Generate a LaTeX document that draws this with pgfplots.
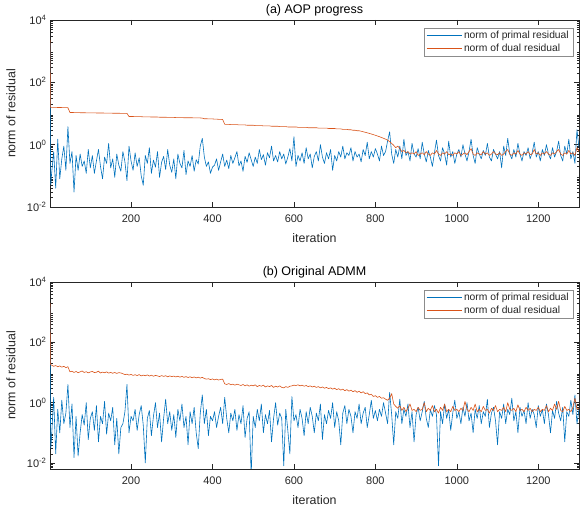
\documentclass[border=0pt]{standalone}
\usepackage{fontspec}
\setmainfont{Liberation Sans}
\usepackage{pgfplots}
\usepackage{pgfplotstable}
\pgfplotsset{compat=1.18}
\definecolor{mblue}{RGB}{0,114,189}
\definecolor{morange}{RGB}{217,83,25}
\definecolor{axgray}{RGB}{38,38,38}

\pgfplotstableread[row sep=\\]{
x p d\\
1 1800 2300\\ 2 0.9 16\\ 3 0.05 15.8\\ 5 0.12 15.8\\ 10 0.6 15.7\\ 15 0.04 15.7\\ 20 1.5 15.6\\ 25 0.08 15.6\\ 30 0.35 15.5\\ 35 0.9 15.5\\ 40 0.15 15.4\\ 45 3.8 15.3\\
50 0.25 10.8\\ 55 0.6 10.8\\ 60 0.03 10.7\\ 65 0.45 10.7\\ 70 0.15 10.7\\ 75 0.5 10.6\\ 80 0.2 10.6\\ 85 0.3 10.6\\ 90 0.12 10.5\\ 95 0.7 10.5\\ 100 0.18 10.5\\
105 0.45 10.5\\ 110 0.12 10.5\\ 115 0.3 10.4\\ 120 0.7 10.4\\ 125 0.2 10.4\\ 130 0.08 10.4\\ 135 0.4 10.3\\ 140 0.25 10.3\\ 145 1.1 10.3\\ 150 0.18 10.3\\
155 0.35 10.2\\ 160 0.09 10.2\\ 165 0.5 10.2\\ 170 0.22 10.2\\ 175 0.14 10.1\\ 180 0.6 10.1\\ 185 0.28 10.1\\ 190 0.07 10.1\\ 195 0.9 8.0\\ 200 0.3 8.0\\
205 0.15 8.0\\ 210 0.55 7.9\\ 215 0.2 7.9\\ 220 0.38 7.9\\ 225 0.1 7.9\\ 230 0.05 7.8\\ 235 0.45 7.8\\ 240 0.25 7.8\\ 245 0.8 7.8\\ 250 0.12 7.7\\
255 0.32 7.7\\ 260 0.19 7.7\\ 265 0.6 7.7\\ 270 0.09 7.6\\ 275 0.27 7.6\\ 280 0.42 7.6\\ 285 0.16 7.6\\ 290 0.7 7.5\\ 295 0.22 7.5\\ 300 0.13 7.5\\
305 0.35 7.5\\ 310 0.08 7.4\\ 315 0.5 7.4\\ 320 0.25 7.4\\ 325 0.18 7.4\\ 330 0.65 7.3\\ 335 0.11 7.3\\ 340 0.3 7.3\\ 345 0.2 7.3\\ 350 0.45 7.3\\
355 0.14 7.2\\ 360 0.33 7.2\\ 365 0.24 7.2\\ 370 0.9 7.2\\ 375 1.6 7.1\\ 380 0.4 6.8\\ 385 0.2 6.8\\ 390 0.28 6.7\\ 395 0.12 6.7\\ 400 0.19 6.7\\
405 0.22 6.6\\ 410 0.35 6.6\\ 415 0.15 6.5\\ 420 0.28 6.5\\ 425 0.5 6.4\\ 430 0.2 4.5\\ 435 0.32 4.5\\ 440 0.17 4.5\\ 445 0.45 4.4\\ 450 0.25 4.4\\
455 0.38 4.4\\ 460 0.6 4.4\\ 465 0.21 4.3\\ 470 0.3 4.3\\ 475 0.14 4.3\\ 480 0.42 4.3\\ 485 0.27 4.2\\ 490 0.55 4.2\\ 495 0.33 4.2\\ 500 0.2 4.2\\
505 0.4 4.1\\ 510 0.25 4.1\\ 515 0.7 4.1\\ 520 0.33 4.1\\ 525 0.48 4.0\\ 530 0.22 4.0\\ 535 0.55 4.0\\ 540 0.38 4.0\\ 545 0.9 3.9\\ 550 0.3 3.9\\
555 0.45 3.9\\ 560 0.28 3.9\\ 565 0.6 3.8\\ 570 0.35 3.8\\ 575 0.5 3.8\\ 580 0.24 3.8\\ 585 0.4 3.7\\ 590 0.75 3.7\\ 595 0.3 3.7\\ 600 1.8 3.7\\
605 0.2 3.7\\ 610 0.45 3.6\\ 615 0.3 3.6\\ 620 0.55 3.6\\ 625 0.25 3.6\\ 630 0.8 3.6\\ 635 0.35 3.5\\ 640 0.5 3.5\\ 645 0.18 3.5\\ 650 0.42 3.5\\
655 0.6 3.5\\ 660 0.3 3.4\\ 665 1.0 3.4\\ 670 0.4 3.4\\ 675 0.25 3.4\\ 680 0.55 3.4\\ 685 0.35 3.3\\ 690 0.7 3.3\\ 695 0.15 3.3\\ 700 0.45 3.3\\
705 0.3 3.2\\ 710 0.6 3.2\\ 715 0.4 3.2\\ 720 0.9 3.1\\ 725 0.35 3.1\\ 730 0.55 3.1\\ 735 0.45 3.0\\ 740 0.8 3.0\\ 745 0.3 2.9\\ 750 0.6 2.9\\
755 0.4 2.8\\ 760 0.5 2.8\\ 765 0.28 2.7\\ 770 0.7 2.6\\ 775 0.45 2.5\\ 780 1.2 2.4\\ 785 0.35 2.3\\ 790 0.6 2.2\\ 795 0.4 2.1\\ 800 0.75 2.0\\
805 0.5 1.9\\ 810 0.3 1.8\\ 815 0.9 1.7\\ 820 0.45 1.6\\ 825 0.6 1.5\\ 830 1.3 1.4\\ 835 2.6 1.25\\ 840 0.5 1.1\\ 845 0.25 0.95\\ 850 0.7 0.8\\
855 0.4 0.9\\ 860 0.9 0.75\\ 865 0.35 0.6\\ 870 1.5 0.65\\ 875 0.45 0.55\\ 880 0.6 0.6\\ 885 0.3 0.5\\ 890 1.1 0.55\\ 895 0.5 0.5\\ 900 0.4 0.6\\
905 0.75 0.45\\ 910 0.35 0.5\\ 915 1.2 0.55\\ 920 0.5 0.48\\ 925 0.28 0.6\\ 930 0.65 0.5\\ 935 0.4 0.45\\ 940 0.2 0.55\\ 945 0.55 0.5\\ 950 1.4 0.65\\
955 0.45 0.5\\ 960 0.3 0.45\\ 965 0.8 0.55\\ 970 0.5 0.5\\ 975 0.22 0.6\\ 980 1.3 0.48\\ 985 0.4 0.5\\ 990 0.6 0.45\\ 995 0.25 0.55\\ 1000 0.5 0.5\\
1005 0.7 0.6\\ 1010 0.4 0.45\\ 1015 1.0 0.5\\ 1020 0.5 0.55\\ 1025 0.3 0.48\\ 1030 0.6 0.6\\ 1035 1.5 0.75\\ 1040 0.45 0.5\\ 1045 0.25 0.45\\ 1050 0.8 0.55\\
1055 0.5 0.5\\ 1060 0.35 0.48\\ 1065 0.65 0.6\\ 1070 0.45 0.5\\ 1075 1.1 0.55\\ 1080 0.4 0.45\\ 1085 0.3 0.5\\ 1090 0.7 0.6\\ 1095 0.5 0.5\\ 1100 0.35 0.48\\
1105 0.6 0.55\\ 1110 0.18 0.45\\ 1115 0.9 0.5\\ 1120 0.45 0.6\\ 1125 1.6 0.7\\ 1130 0.5 0.5\\ 1135 0.35 0.45\\ 1140 0.7 0.55\\ 1145 0.4 0.5\\ 1150 1.1 0.65\\
1155 0.5 0.5\\ 1160 0.3 0.45\\ 1165 0.6 0.55\\ 1170 0.45 0.5\\ 1175 0.8 0.6\\ 1180 0.35 0.48\\ 1185 0.55 0.5\\ 1190 1.2 0.7\\ 1195 0.4 0.5\\ 1200 0.6 0.55\\
1205 0.3 0.45\\ 1210 0.7 0.55\\ 1215 0.45 0.5\\ 1220 1.0 0.6\\ 1225 0.5 0.5\\ 1230 0.35 0.45\\ 1235 0.8 0.55\\ 1240 0.4 0.5\\ 1245 0.6 0.6\\ 1250 1.3 0.7\\
1255 0.45 0.5\\ 1260 0.3 0.45\\ 1265 0.9 0.55\\ 1270 0.5 0.5\\ 1275 1.5 0.65\\ 1280 0.35 0.5\\ 1285 0.6 0.55\\ 1290 0.25 0.45\\ 1295 3.0 0.8\\ 1300 0.8 0.6\\
}\tA

\pgfplotstableread[row sep=\\]{
x p d\\
1 1500 2000\\ 2 0.5 20\\ 3 0.03 18\\ 5 0.08 17.5\\ 10 1.5 16\\ 15 0.02 17\\ 20 0.6 15.5\\ 25 0.1 16.5\\ 30 1.2 15\\ 35 0.2 16\\ 40 0.45 14.5\\ 45 4.0 15.5\\
50 0.15 10.5\\ 55 0.9 11\\ 60 0.015 10\\ 65 0.35 10.8\\ 70 0.017 9.8\\ 75 0.1 10.5\\ 80 0.4 11.2\\ 85 0.18 10\\ 90 1.0 10.6\\ 95 0.06 9.7\\ 100 0.3 10.4\\
105 0.5 10.8\\ 110 0.12 9.9\\ 115 0.8 10.2\\ 120 0.05 11\\ 125 0.35 9.6\\ 130 0.2 10.3\\ 135 1.1 9.8\\ 140 0.09 10.5\\ 145 0.45 9.5\\ 150 0.25 10.1\\
155 0.7 9.4\\ 160 0.04 10\\ 165 0.3 9.3\\ 170 0.02 9.9\\ 175 0.15 9.6\\ 180 0.2 9.1\\ 185 0.5 8.5\\ 190 4.0 8.8\\ 195 0.1 8.2\\ 200 0.35 8.6\\
205 0.25 8\\ 210 0.6 8.4\\ 215 0.12 7.9\\ 220 0.4 8.5\\ 225 0.8 7.7\\ 230 0.18 8.2\\ 235 0.01 7.8\\ 240 0.3 8.3\\ 245 0.55 7.6\\ 250 0.08 8.1\\
255 0.35 7.5\\ 260 1.0 8\\ 265 0.15 7.7\\ 270 0.45 7.3\\ 275 0.05 7.9\\ 280 0.3 7.4\\ 285 1.3 7.8\\ 290 0.2 7.2\\ 295 0.5 7.7\\ 300 0.12 7.3\\
305 0.4 7.6\\ 310 0.07 7.1\\ 315 0.6 7.5\\ 320 0.25 7.0\\ 325 0.9 7.4\\ 330 0.15 6.9\\ 335 0.35 7.3\\ 340 0.04 6.8\\ 345 0.5 7.2\\ 350 0.2 6.7\\
355 0.7 7.1\\ 360 0.1 6.6\\ 365 0.03 7.0\\ 370 0.45 6.5\\ 375 1.8 6.9\\ 380 0.2 6.3\\ 385 0.6 6.0\\ 390 0.08 6.2\\ 395 0.35 5.8\\ 400 0.25 6.1\\
405 0.5 5.7\\ 410 0.15 6.0\\ 415 0.35 5.6\\ 420 0.7 5.9\\ 425 0.2 6.0\\ 430 1.5 4.2\\ 435 0.3 4.0\\ 440 0.1 4.3\\ 445 0.45 3.9\\ 450 0.25 4.1\\
455 0.6 3.8\\ 460 0.12 4.1\\ 465 0.4 3.9\\ 470 0.2 3.7\\ 475 0.8 4.0\\ 480 0.07 3.6\\ 485 0.3 3.9\\ 490 0.5 3.5\\ 495 0.004 3.8\\ 500 0.35 3.6\\
505 0.15 3.9\\ 510 0.6 3.4\\ 515 0.25 3.7\\ 520 0.9 3.5\\ 525 0.1 3.8\\ 530 0.4 3.3\\ 535 0.2 3.6\\ 540 0.55 3.4\\ 545 0.05 3.7\\ 550 0.3 3.2\\
555 1.0 3.5\\ 560 0.18 3.3\\ 565 0.45 3.6\\ 570 0.3 3.2\\ 575 0.008 3.1\\ 580 0.6 3.4\\ 585 0.12 3.2\\ 590 0.02 3.5\\ 595 1.6 3.6\\ 600 0.25 3.8\\
605 0.4 3.7\\ 610 0.15 3.9\\ 615 0.6 3.6\\ 620 0.3 3.8\\ 625 0.08 3.5\\ 630 0.5 3.7\\ 635 0.2 3.4\\ 640 0.7 3.6\\ 645 0.35 3.3\\ 650 0.1 3.5\\
655 0.45 3.2\\ 660 0.25 3.4\\ 665 0.9 3.1\\ 670 0.06 3.3\\ 675 0.4 3.0\\ 680 0.2 3.2\\ 685 0.55 2.9\\ 690 0.3 3.1\\ 695 1.0 2.8\\ 700 0.15 3.0\\
705 0.5 2.7\\ 710 0.25 2.9\\ 715 0.04 2.6\\ 720 0.45 2.8\\ 725 0.8 2.5\\ 730 0.2 2.7\\ 735 0.6 2.4\\ 740 0.35 2.6\\ 745 0.1 2.3\\ 750 0.5 2.5\\
755 0.3 2.2\\ 760 0.9 2.4\\ 765 0.2 2.1\\ 770 0.45 2.3\\ 775 0.7 2.0\\ 780 0.15 2.1\\ 785 0.4 1.8\\ 790 1.2 1.9\\ 795 0.3 1.6\\ 800 0.55 1.7\\
805 0.25 1.5\\ 810 0.6 1.6\\ 815 0.35 1.4\\ 820 1.0 1.45\\ 825 0.45 1.3\\ 830 0.2 1.2\\ 835 2.2 1.4\\ 840 0.4 2.0\\ 845 0.04 0.9\\ 850 0.5 0.75\\
855 0.3 0.65\\ 860 1.3 0.8\\ 865 0.2 0.55\\ 870 0.6 0.7\\ 875 0.35 0.5\\ 880 0.9 0.65\\ 885 0.15 0.9\\ 890 0.5 0.55\\ 895 0.05 0.6\\ 900 0.4 0.5\\
905 0.7 0.7\\ 910 0.25 0.55\\ 915 0.5 0.6\\ 920 1.1 1.0\\ 925 0.3 0.5\\ 930 0.15 0.65\\ 935 0.6 0.55\\ 940 0.35 0.8\\ 945 0.8 0.5\\ 950 0.4 0.6\\
955 0.008 0.45\\ 960 0.5 0.7\\ 965 0.2 0.55\\ 970 0.9 0.9\\ 975 0.3 0.5\\ 980 0.6 0.6\\ 985 0.12 0.5\\ 990 0.45 0.75\\ 995 1.2 0.55\\ 1000 0.3 0.6\\
1005 0.5 0.5\\ 1010 0.2 0.65\\ 1015 0.7 0.55\\ 1020 0.35 1.1\\ 1025 1.0 0.6\\ 1030 0.25 0.5\\ 1035 0.45 0.7\\ 1040 0.1 0.55\\ 1045 0.6 0.9\\ 1050 0.3 0.5\\
1055 0.8 0.6\\ 1060 0.2 0.5\\ 1065 0.5 0.75\\ 1070 0.35 0.55\\ 1075 1.3 0.6\\ 1080 0.15 0.45\\ 1085 0.45 0.65\\ 1090 0.7 0.55\\ 1095 0.25 0.8\\ 1100 0.04 0.5\\
1105 0.5 0.6\\ 1110 0.3 0.55\\ 1115 0.9 0.7\\ 1120 0.2 0.5\\ 1125 0.6 1.0\\ 1130 0.4 0.6\\ 1135 1.4 0.55\\ 1140 0.25 0.65\\ 1145 0.5 0.5\\ 1150 0.1 0.85\\
1155 0.7 0.55\\ 1160 0.35 0.6\\ 1165 0.55 0.5\\ 1170 0.2 0.7\\ 1175 1.0 0.55\\ 1180 0.3 0.65\\ 1185 0.6 0.5\\ 1190 0.4 0.6\\ 1195 0.15 0.55\\ 1200 0.8 0.7\\
1205 0.35 0.5\\ 1210 0.6 0.6\\ 1215 0.2 0.55\\ 1220 0.9 0.8\\ 1225 0.4 0.5\\ 1230 0.1 0.65\\ 1235 0.55 0.55\\ 1240 0.3 0.9\\ 1245 1.1 0.6\\ 1250 0.45 1.1\\
1255 0.25 0.55\\ 1260 0.7 0.5\\ 1265 0.05 0.75\\ 1270 0.5 0.55\\ 1275 0.35 0.6\\ 1280 1.2 0.5\\ 1285 0.4 0.7\\ 1290 1.8 1.4\\ 1295 0.2 0.6\\ 1300 0.6 0.65\\
}\tB

\pgfplotsset{
  matstyle/.style={
    scale only axis, width=529pt, height=187pt,
    anchor=south west,
    xmin=1, xmax=1300,
    xtick={200,400,600,800,1000,1200},
    ytick={1e-2,1,1e2,1e4},
    yticklabels={10\textsuperscript{-2},10\textsuperscript{0},10\textsuperscript{2},10\textsuperscript{4}},
    minor ytick={0.002,0.003,0.004,0.005,0.006,0.007,0.008,0.009,
      0.02,0.03,0.04,0.05,0.06,0.07,0.08,0.09,
      0.2,0.3,0.4,0.5,0.6,0.7,0.8,0.9,
      2,3,4,5,6,7,8,9,20,30,40,50,60,70,80,90,
      200,300,400,500,600,700,800,900,2000,3000,4000,5000,6000,7000,8000,9000},
    tick align=inside,
    major tick length=5pt, minor tick length=2.5pt,
    axis line style={axgray, line width=0.6pt},
    every tick/.style={axgray, line width=0.5pt},
    tick label style={font=\fontsize{11}{13}\selectfont, text=axgray},
    xticklabel shift=4pt,
    xlabel shift=4pt,
    ylabel shift=4.5pt,
    label style={font=\fontsize{12.4}{14}\selectfont, text=axgray},
    every axis title shift=0pt,
    title style={font=\fontsize{12.5}{14}\selectfont, text=black,
      at={(0.5,1)}, anchor=base, yshift=6pt},
    /pgf/number format/assume math mode=true,
    /pgf/number format/1000 sep={},
    xlabel={iteration}, ylabel={norm of residual},
    legend cell align=left,
    legend style={at={(1,1)}, anchor=north east, xshift=-6pt, yshift=-8pt,
      draw=black!45, line width=0.5pt, fill=white,
      font=\fontsize{10.3}{12}\selectfont, text=axgray,
      inner xsep=2pt, inner ysep=1pt, row sep=0pt},
    legend image code/.code={\draw[##1] (0pt,0pt) -- (35pt,0pt);},
  }
}

\begin{document}
\begin{tikzpicture}
\path[use as bounding box] (0,0) rectangle (581pt,508pt);
\begin{axis}[ymode=log, matstyle, at={(50pt,301pt)}, ymin=1e-2, ymax=1e4,
  title={(a) AOP progress}]
\addplot[mblue, line width=0.6pt, line join=round] table[x=x, y=p] {\tA};
\addlegendentry{norm of primal residual}
\addplot[morange, line width=0.6pt, line join=round] table[x=x, y=d] {\tA};
\addlegendentry{norm of dual residual}
\end{axis}
\begin{axis}[ymode=log, matstyle, at={(50pt,39pt)}, ymin=6.3e-3, ymax=1e4,
  title={(b) Original ADMM}]
\addplot[mblue, line width=0.6pt, line join=round] table[x=x, y=p] {\tB};
\addlegendentry{norm of primal residual}
\addplot[morange, line width=0.6pt, line join=round] table[x=x, y=d] {\tB};
\addlegendentry{norm of dual residual}
\end{axis}
\end{tikzpicture}
\end{document}
